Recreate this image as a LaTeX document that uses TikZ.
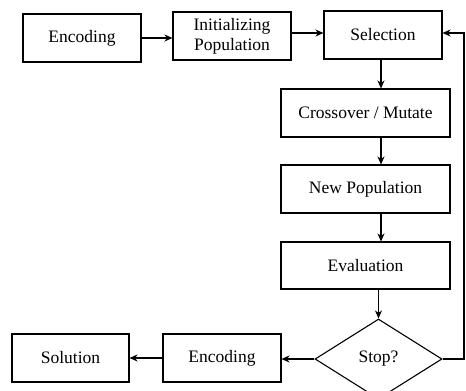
\documentclass[tikz,border=0pt]{standalone}
\usepackage{fontspec}
\setmainfont{Liberation Serif}
\usetikzlibrary{arrows.meta,shapes.geometric}
\begin{document}
\begin{tikzpicture}[x=1pt,y=-1pt,
  box/.style={draw,line width=1.1pt,minimum height=48pt,inner sep=0pt,
    align=center,font=\fontsize{17.5}{20}\selectfont},
  decision/.style={draw,line width=1.1pt,diamond,aspect=1.6,inner sep=0pt,
    minimum width=127pt,minimum height=80pt,font=\fontsize{17.5}{20}\selectfont},
  flow/.style={line width=1.1pt,-{Stealth[length=8pt,width=7pt,inset=2.5pt]}}]
  \useasboundingbox (0,0) rectangle (466,391);

  % top row
  \node[box,minimum width=118pt] (enc1) at (82,38) {Encoding};
  \node[box,minimum width=118pt] (init) at (232,36) {Initializing\\Population};
  \node[box,minimum width=118pt] (sel)  at (383,35) {Selection};

  % main column
  \node[box,minimum width=169pt] (cross)  at (365.5,113) {Crossover / Mutate};
  \node[box,minimum width=169pt] (newpop) at (365.5,189) {New Population};
  \node[box,minimum width=169pt,minimum height=47pt] (eval) at (365.5,265.5) {Evaluation};
  \node[decision] (stop) at (378.5,359) {Stop?};

  % bottom row
  \node[box,minimum width=118pt] (enc2) at (222,358) {Encoding};
  \node[box,minimum width=117pt] (sol)  at (70.5,358) {Solution};

  \coordinate (col) at (381,0);
  \coordinate (back) at (464,0);

  % connectors
  \draw[flow] (enc1.east) -- (enc1.east -| init.west);
  \draw[flow] (init.east |- 0,33) -- (sel.west |- 0,33);
  \draw[flow] (col |- sel.south) -- (col |- cross.north);
  \draw[flow] (col |- cross.south) -- (col |- newpop.north);
  \draw[flow] (col |- newpop.south) -- (col |- eval.north);
  \draw[flow] (eval.south -| stop.north) -- (stop.north);
  \draw[flow] (stop.west) -- (stop.west -| enc2.east);
  \draw[flow] (enc2.west) -- (enc2.west -| sol.east);
  \draw[flow] (stop.east) -- (back |- stop.east) -- (back |- 0,33) -- (sel.east |- 0,33);
\end{tikzpicture}
\end{document}
